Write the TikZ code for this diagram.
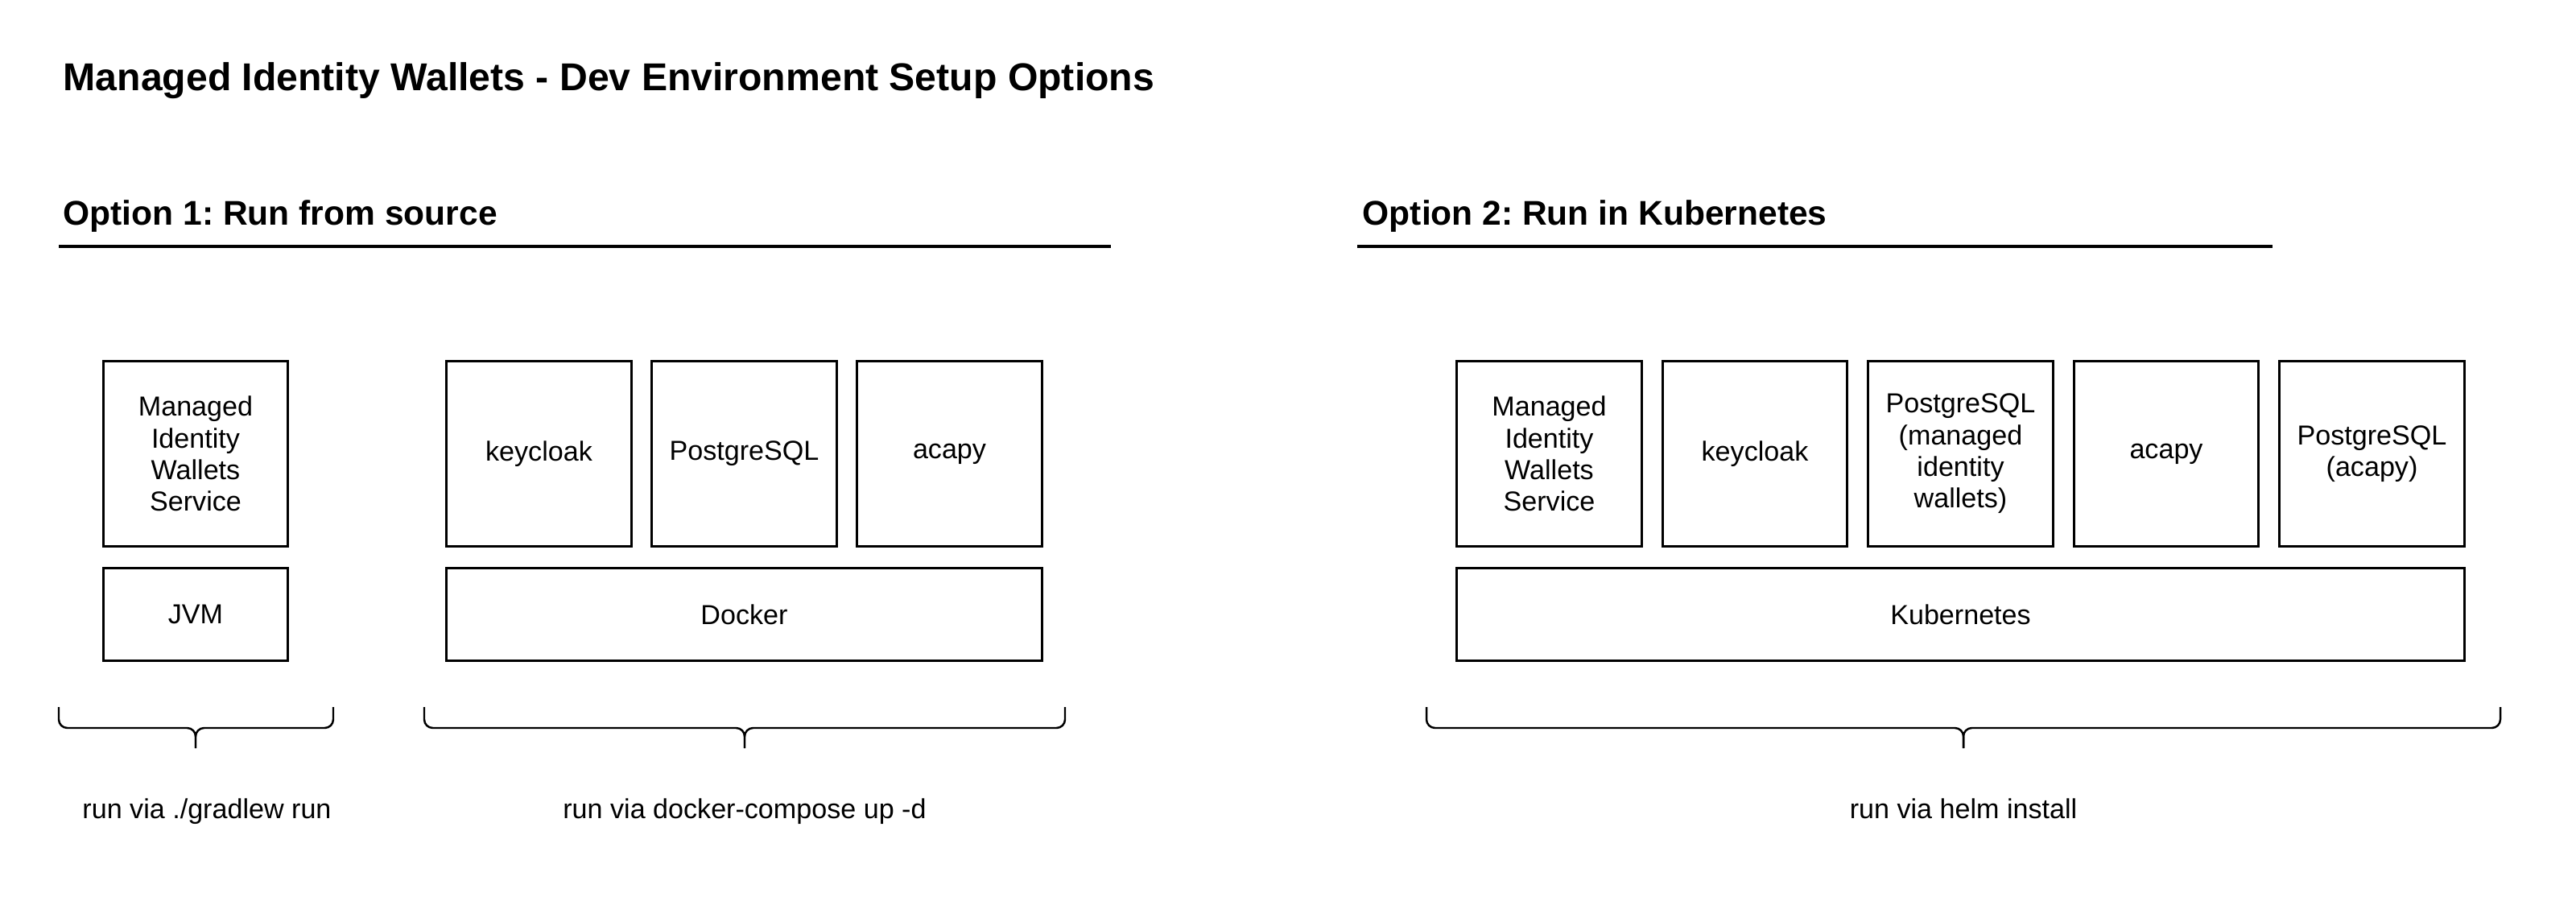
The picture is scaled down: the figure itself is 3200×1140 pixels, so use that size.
\documentclass[tikz,border=0pt]{standalone}
\usepackage{fontspec}
\setmainfont{Liberation Sans}
\frenchspacing
\tikzstyle{svcbox}=[draw,line width=0.85pt,minimum width=2.29cm,minimum height=2.29cm,inner sep=0pt,align=center,font=\fontsize{9.7}{11.2}\selectfont]
\tikzstyle{basebox}=[svcbox,minimum height=1.14cm]
\tikzstyle{heading}=[anchor=base west,inner sep=0pt,font=\fontsize{12.1}{14}\selectfont\bfseries]
\tikzstyle{runlabel}=[anchor=base,inner sep=0pt,font=\fontsize{9.7}{11.2}\selectfont]
\tikzstyle{bracepart}=[line width=0.7pt,rounded corners=3pt]

\begin{document}
\begin{tikzpicture}[x=0.01cm,y=-0.01cm]
    \useasboundingbox (0,0) rectangle (3200,1140);
    \node[heading,font=\fontsize{13.7}{16}\selectfont\bfseries] (title) at (78,113) {Managed Identity Wallets - Dev Environment Setup Options};
    \node[heading] (opt1) at (78,280) {Option 1: Run from source};
    \node[heading] (opt2) at (1692,280) {Option 2: Run in Kubernetes};
    \draw[line width=1.1pt] (73,306) -- (1380,306);
    \draw[line width=1.1pt] (1686,306) -- (2823,306);

    % option 1
    \node[svcbox] (miw1) at (243,563.5) {Managed\\Identity\\Wallets\\Service};
    \node[basebox] (jvm) at (243,763) {JVM};
    \node[svcbox] (kc1) at (669.5,563.5) {keycloak};
    \node[svcbox] (pg1) at (924.5,563.5) {PostgreSQL};
    \node[svcbox] (aca1) at (1179.5,563.5) {acapy};
    \node[basebox,minimum width=7.39cm] (docker) at (924.5,763) {Docker};

    % option 2
    \node[svcbox] (miw2) at (1924.5,563.5) {Managed\\Identity\\Wallets\\Service};
    \node[svcbox] (kc2) at (2180,563.5) {keycloak};
    \node[svcbox] (pg2) at (2435.5,563.5) {PostgreSQL\\(managed\\identity\\wallets)};
    \node[svcbox] (aca2) at (2691,563.5) {acapy};
    \node[svcbox] (pg3) at (2946.5,563.5) {PostgreSQL\\(acapy)};
    \node[basebox,minimum width=12.51cm] (kube) at (2435.5,763) {Kubernetes};

    \foreach \xa/\xc/\xb in {73/243/414,527/925/1323,1772/2439/3106}
    {
        \draw[bracepart] (\xa,878) -- (\xa,904) -- (\xc,904) -- (\xc,929);
        \draw[bracepart] (\xb,878) -- (\xb,904) -- (\xc,904) -- (\xc,929);
    }

    \node[runlabel] (run1) at (257,1016) {run via ./gradlew run};
    \node[runlabel] (run2) at (925,1016) {run via docker-compose up -d};
    \node[runlabel] (run3) at (2439,1016) {run via helm install};
\end{tikzpicture}
\end{document}
